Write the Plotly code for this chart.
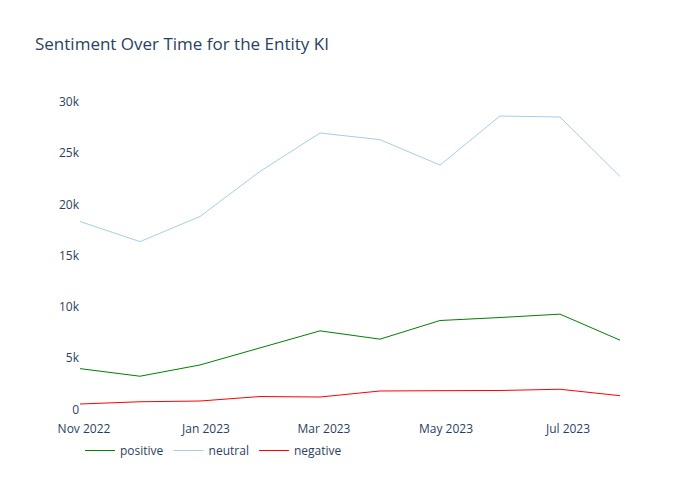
import pandas as pd
import plotly.graph_objects as go

dates = pd.date_range("2022-10-30", periods=10, freq="30D")
positive = [3970, 3230, 4330, 5970, 7660, 6850, 8670, 8960, 9290, 6750]
neutral = [18330, 16370, 18820, 23220, 26970, 26320, 23840, 28630, 28530, 22730]
negative = [520, 740, 810, 1250, 1200, 1790, 1820, 1840, 1960, 1330]

series = [("positive", positive, "green"), ("neutral", neutral, "#a6cee3"), ("negative", negative, "red")]

fig = go.Figure()
for name, vals, color in series:
    fig.add_trace(go.Scatter(x=dates, y=vals, mode="lines", name=name,
                             line=dict(color=color, width=1)))

fig.update_layout(
    template="plotly_white",
    width=700, height=500,
    title=dict(text="Sentiment Over Time for the Entity KI"),
    legend=dict(orientation="h", y=-0.05, yanchor="top"),
)
fig.update_xaxes(showgrid=False, zeroline=False)
fig.update_yaxes(showgrid=False, zeroline=False)
fig.write_html("out.html", config={"displayModeBar": False},
               post_script="document.body.style.margin='0';")
